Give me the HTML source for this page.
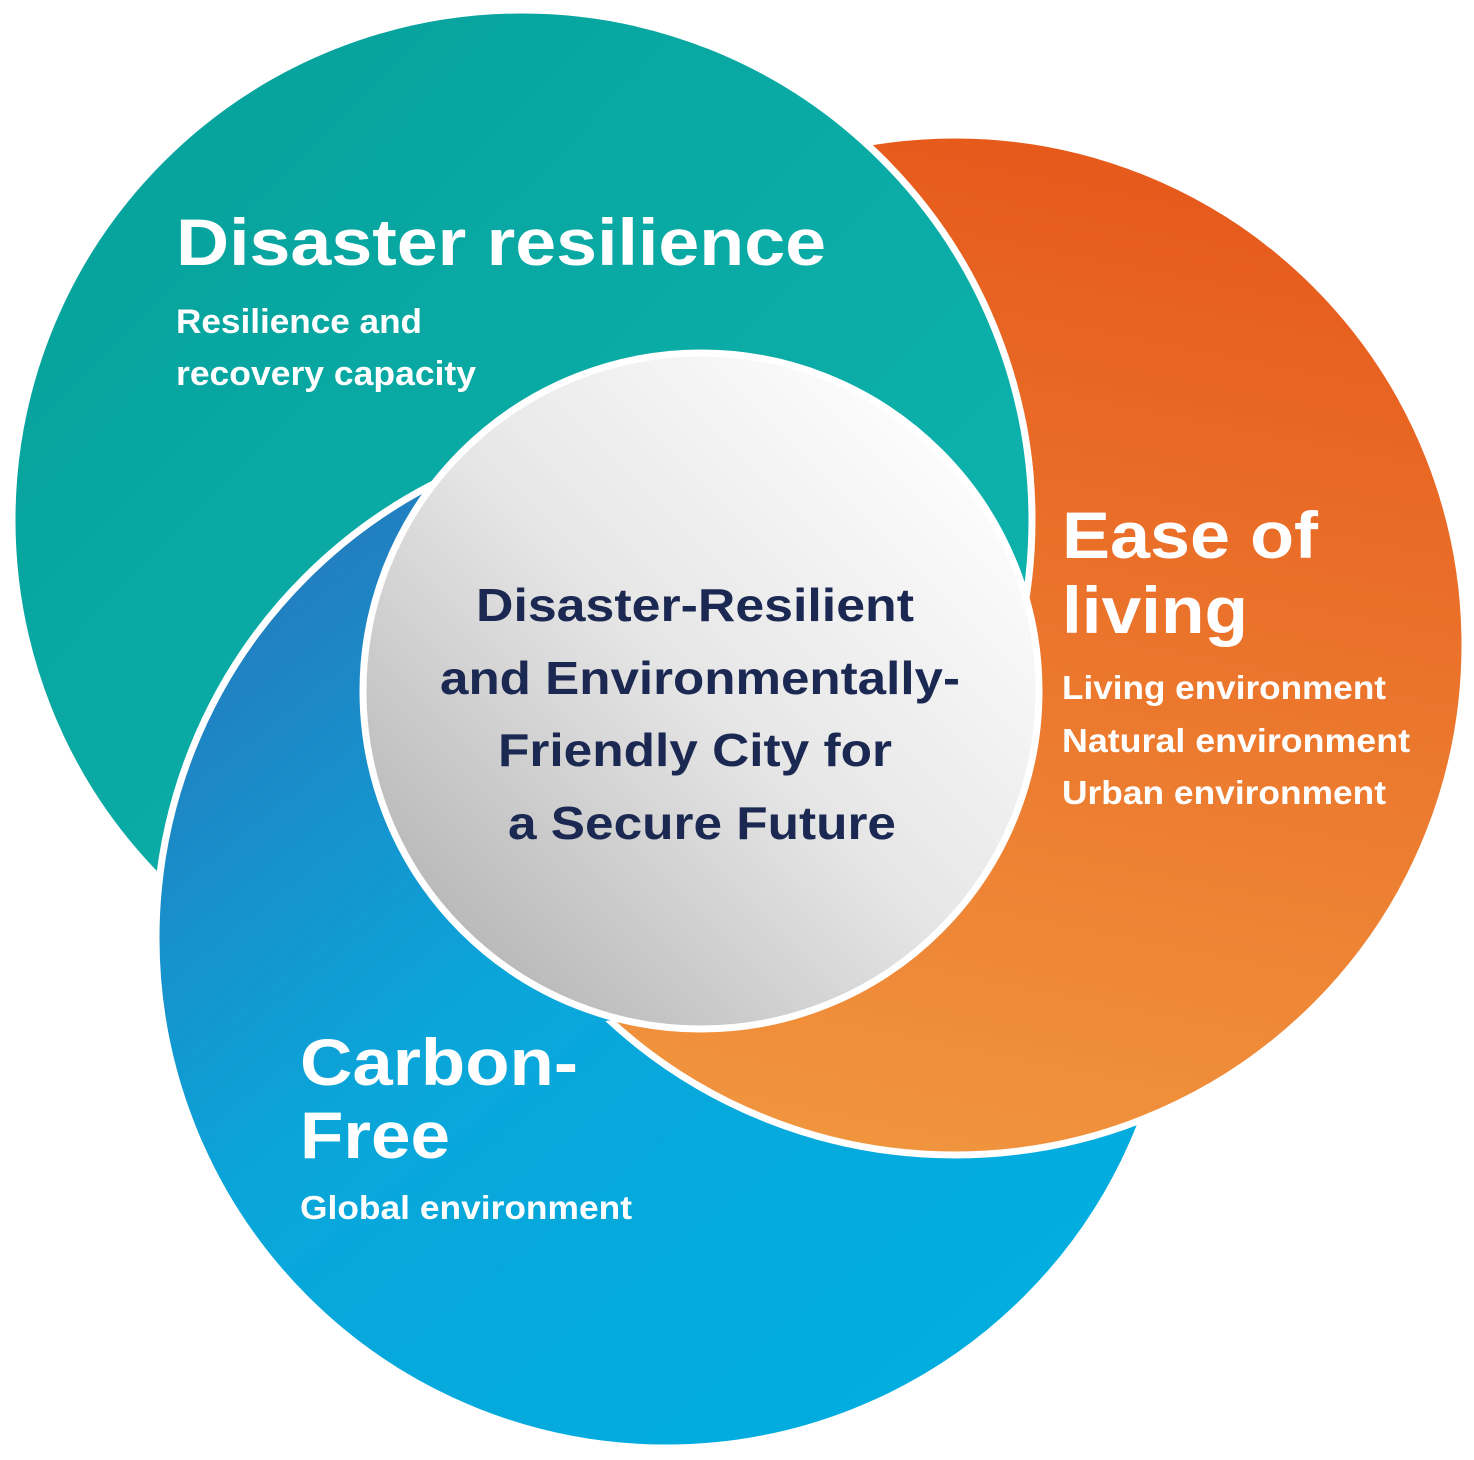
<!DOCTYPE html>
<html><head><meta charset="utf-8"><style>
html,body{margin:0;padding:0;background:#fff;}
svg{display:block}
text{font-family:"Liberation Sans",Arial,sans-serif;font-weight:bold;}
</style></head><body>
<svg width="1474" height="1460" viewBox="0 0 1474 1460" xmlns="http://www.w3.org/2000/svg">
<defs>
<linearGradient id="gt" x1="0" y1="0" x2="1" y2="1"><stop offset="0" stop-color="#05a09a"/><stop offset="1" stop-color="#10b6b1"/></linearGradient>
<linearGradient id="go" x1="0.5" y1="0" x2="0.3" y2="1"><stop offset="0" stop-color="#e65a1c"/><stop offset="1" stop-color="#f1963f"/></linearGradient>
<linearGradient id="gb" x1="0" y1="0" x2="0.8" y2="1"><stop offset="0" stop-color="#2d6db4"/><stop offset="0.5" stop-color="#0aa6da"/><stop offset="1" stop-color="#00aee0"/></linearGradient>
<linearGradient id="gc" x1="0.9" y1="0.1" x2="0.1" y2="0.9"><stop offset="0" stop-color="#ffffff"/><stop offset="0.5" stop-color="#e6e6e6"/><stop offset="1" stop-color="#b4b4b4"/></linearGradient>
<mask id="m"><rect x="0" y="0" width="1474" height="1460" fill="#fff"/><circle cx="522" cy="520" r="508" fill="#000"/></mask>
<clipPath id="cl"><rect x="540" y="480" width="934" height="980"/></clipPath>
<clipPath id="c2"><rect x="900" y="420" width="200" height="300"/></clipPath>
</defs>
<circle cx="955" cy="645" r="510" fill="url(#go)" stroke="#fff" stroke-width="7"/>
<circle cx="522" cy="520" r="510" fill="url(#gt)" stroke="#fff" stroke-width="7"/>
<circle cx="666" cy="938" r="510" fill="url(#gb)" stroke="#fff" stroke-width="7"/>
<g clip-path="url(#cl)" mask="url(#m)"><circle cx="955" cy="645" r="510" fill="url(#go)" stroke="#fff" stroke-width="7"/></g>
<g clip-path="url(#c2)"><circle cx="522" cy="520" r="510" fill="url(#gt)" stroke="#fff" stroke-width="7"/></g>
<circle cx="701" cy="691" r="338" fill="url(#gc)" stroke="#fff" stroke-width="7"/>
<g fill="#fff">
<text x="176" y="265" font-size="66" textLength="650" lengthAdjust="spacingAndGlyphs">Disaster resilience</text>
<text x="176" y="333" font-size="34" textLength="246" lengthAdjust="spacingAndGlyphs">Resilience and</text>
<text x="176" y="385" font-size="34" textLength="300" lengthAdjust="spacingAndGlyphs">recovery capacity</text>
<text x="1062" y="558" font-size="66" textLength="256" lengthAdjust="spacingAndGlyphs">Ease of</text>
<text x="1062" y="633" font-size="66" textLength="186" lengthAdjust="spacingAndGlyphs">living</text>
<text x="1062" y="699" font-size="33" textLength="324" lengthAdjust="spacingAndGlyphs">Living environment</text>
<text x="1062" y="752" font-size="33" textLength="348" lengthAdjust="spacingAndGlyphs">Natural environment</text>
<text x="1062" y="804" font-size="33" textLength="324" lengthAdjust="spacingAndGlyphs">Urban environment</text>
<text x="300" y="1085" font-size="66" textLength="278" lengthAdjust="spacingAndGlyphs">Carbon-</text>
<text x="300" y="1158" font-size="66" textLength="150" lengthAdjust="spacingAndGlyphs">Free</text>
<text x="300" y="1219" font-size="33" textLength="332" lengthAdjust="spacingAndGlyphs">Global environment</text>
</g>
<g fill="#1b2852" font-size="46" text-anchor="middle">
<text x="695" y="621" textLength="438" lengthAdjust="spacingAndGlyphs">Disaster-Resilient</text>
<text x="700" y="694" textLength="520" lengthAdjust="spacingAndGlyphs">and Environmentally-</text>
<text x="695" y="766" textLength="394" lengthAdjust="spacingAndGlyphs">Friendly City for</text>
<text x="702" y="839" textLength="388" lengthAdjust="spacingAndGlyphs">a Secure Future</text>
</g>
</svg>
</body></html>
